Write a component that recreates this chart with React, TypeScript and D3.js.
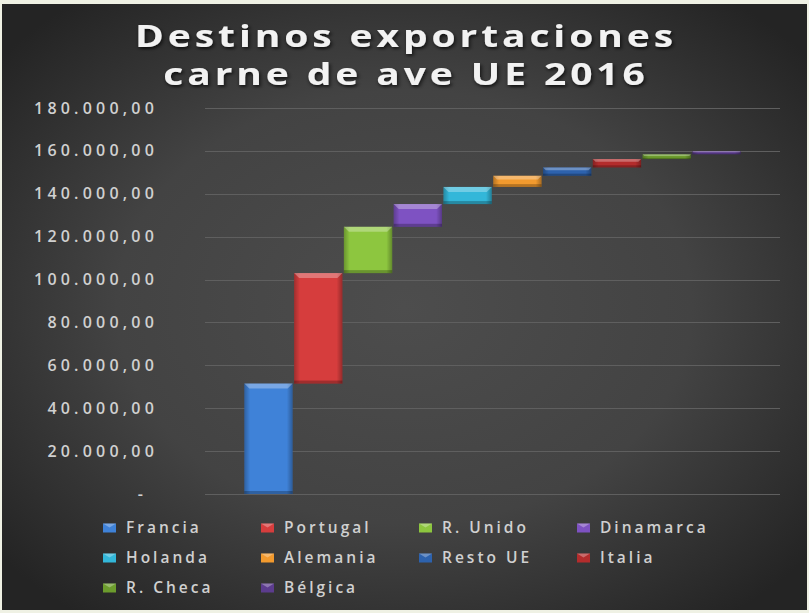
import { useEffect, useRef } from "react";
import * as d3 from "d3";

const countries = [
  "Francia", "Portugal", "R. Unido", "Dinamarca", "Holanda",
  "Alemania", "Resto UE", "Italia", "R. Checa", "Bélgica"
];
const amounts = [51500, 51500, 21600, 10600, 8000, 5200, 3900, 3900, 2200, 1500];
const colors = [
  "#3f82d8", "#d63d3d", "#8dc63f", "#7e52c2", "#33b7d9",
  "#f29a2e", "#2d62ad", "#b32c2c", "#6c9c2d", "#5c3c8e"
];
const yTicks = [0, 20000, 40000, 60000, 80000, 100000, 120000, 140000, 160000, 180000];
const titleLines = ["Destinos exportaciones", "carne de ave UE 2016"];

const W = 809;
const H = 613;

const fmt = (v: number) => {
  if (v === 0) return "-";
  const s = d3.format(",.2f")(v);
  return s.replace(/,/g, "#").replace(".", ",").replace(/#/g, ".");
};

const App = () => {
  const svgRef = useRef<SVGSVGElement | null>(null);

  useEffect(() => {
    const svg = d3.select(svgRef.current);
    svg.selectAll("*").remove();
    svg.attr("width", W).attr("height", H);

    const defs = svg.append("defs");
    const bg = defs.append("radialGradient").attr("id", "bg")
      .attr("cx", "50%").attr("cy", "50%").attr("r", "65%");
    bg.append("stop").attr("offset", "0%").attr("stop-color", "#4d4d4d");
    bg.append("stop").attr("offset", "55%").attr("stop-color", "#434343");
    bg.append("stop").attr("offset", "100%").attr("stop-color", "#242424");

    const shade = defs.append("linearGradient").attr("id", "shade")
      .attr("x1", "0").attr("x2", "1").attr("y1", "0").attr("y2", "0");
    shade.append("stop").attr("offset", "0%").attr("stop-color", "#000").attr("stop-opacity", 0.25);
    shade.append("stop").attr("offset", "12%").attr("stop-color", "#000").attr("stop-opacity", 0);
    shade.append("stop").attr("offset", "88%").attr("stop-color", "#000").attr("stop-opacity", 0);
    shade.append("stop").attr("offset", "100%").attr("stop-color", "#000").attr("stop-opacity", 0.3);

    const glow = defs.append("filter").attr("id", "tshadow")
      .attr("x", "-10%").attr("y", "-30%").attr("width", "120%").attr("height", "160%");
    glow.append("feDropShadow").attr("dx", 1).attr("dy", 2).attr("stdDeviation", 1.5)
      .attr("flood-color", "#000").attr("flood-opacity", 0.7);

    // fondo
    svg.append("rect").attr("width", W).attr("height", H).attr("fill", "#eff1e4");
    svg.append("rect").attr("x", 2).attr("y", 4).attr("width", 805).attr("height", 606)
      .attr("fill", "url(#bg)");

    // titulo (estirado en horizontal como en el original)
    svg.append("g").attr("filter", "url(#tshadow)")
      .attr("transform", "translate(406,0) scale(1.3,1)")
      .selectAll("text").data(titleLines).enter().append("text")
      .attr("x", 0).attr("y", (_, i) => 47 + i * 38)
      .attr("text-anchor", "middle")
      .attr("font-family", "'Open Sans', sans-serif").attr("font-weight", 700)
      .attr("font-size", 30).attr("letter-spacing", 3)
      .attr("fill", "#f2f2f2")
      .text(d => d);

    const x0 = 205, x1 = 780;
    const y = d3.scaleLinear().domain([0, 180000]).range([494, 108]);
    const x = d3.scaleBand<string>().domain(countries).range([x0, x1])
      .paddingInner(0.03).paddingOuter(0.79);

    // rejilla
    svg.append("g").selectAll("line").data(yTicks).enter().append("line")
      .attr("x1", x0).attr("x2", x1)
      .attr("y1", d => Math.round(y(d)) + 0.5).attr("y2", d => Math.round(y(d)) + 0.5)
      .attr("stroke", "#5f5f5f").attr("stroke-width", 1);

    svg.append("g").selectAll("text").data(yTicks).enter().append("text")
      .attr("x", d => (d === 0 ? 147 : 158)).attr("y", d => y(d))
      .attr("dy", "0.35em").attr("text-anchor", "end")
      .attr("font-family", "'Open Sans', sans-serif").attr("font-weight", 600)
      .attr("font-size", 16).attr("letter-spacing", 4.2)
      .attr("fill", "#d0d0d0")
      .text(d => fmt(d));

    // cascada
    const cum = d3.cumsum(amounts);
    const bars = countries.map((c, i) => ({
      c, color: colors[i], start: cum[i] - amounts[i], end: cum[i]
    }));

    const bg2 = svg.append("g");
    bars.forEach(b => {
      const bx = x(b.c) ?? 0;
      const bw = x.bandwidth();
      const top = y(b.end);
      const h = y(b.start) - top;
      const g = bg2.append("g");
      g.append("rect").attr("x", bx).attr("y", top).attr("width", bw).attr("height", h)
        .attr("fill", b.color);
      g.append("rect").attr("x", bx).attr("y", top).attr("width", bw).attr("height", h)
        .attr("fill", "url(#shade)");
      const bev = Math.min(5, h / 3);
      g.append("path")
        .attr("d", `M${bx},${top}h${bw}l${-bev},${bev}h${-(bw - 2 * bev)}z`)
        .attr("fill", "#fff").attr("opacity", 0.3);
      g.append("rect").attr("x", bx).attr("y", top + h - Math.min(3, h / 4)).attr("width", bw)
        .attr("height", Math.min(3, h / 4)).attr("fill", "#000").attr("opacity", 0.25);
    });

    // leyenda
    const leg = svg.append("g");
    countries.forEach((c, i) => {
      const col = i % 4;
      const row = Math.floor(i / 4);
      const lx = 103 + col * 158;
      const ly = 528 + row * 30;
      leg.append("rect").attr("x", lx).attr("y", ly - 4.5).attr("width", 13).attr("height", 9)
        .attr("fill", colors[i]);
      leg.append("path")
        .attr("d", `M${lx},${ly - 4.5}h13l-6.5,4z`).attr("fill", "#fff").attr("opacity", 0.3);
      leg.append("text").attr("x", lx + 23).attr("y", ly).attr("dy", "0.35em")
        .attr("font-family", "'Open Sans', sans-serif").attr("font-weight", 600)
        .attr("font-size", 15.5).attr("letter-spacing", 3)
        .attr("fill", "#d0d0d0")
        .text(c);
    });
  }, []);

  return (
    <div style={{ position: "absolute", left: 0, top: 0 }}>
      <svg ref={svgRef} style={{ display: "block" }}></svg>
    </div>
  );
};

export default App;
